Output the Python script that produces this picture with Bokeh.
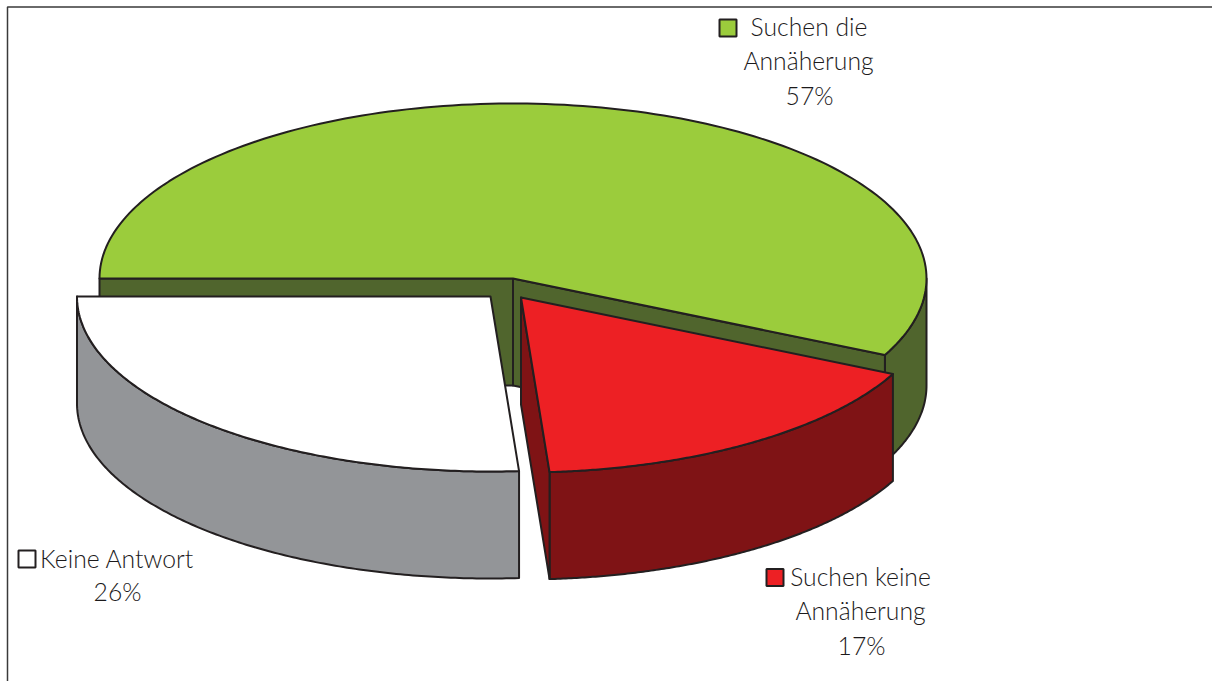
import numpy as np
from bokeh.plotting import figure
from bokeh.models import Range1d
from bokeh.core.properties import value
from bokeh.embed import file_html
from bokeh.resources import INLINE

# Data
categories = ["Suchen die Annäherung", "Suchen keine Annäherung", "Keine Antwort"]
percent_labels = [57, 17, 26]
# slice shares as actually drawn (perspective makes them differ slightly from the labels)
drawn_shares = [57.2, 16.7, 26.1]
top_colors = ["#9bcc3c", "#ed2024", "#ffffff"]
wall_colors = ["#50652d", "#7f1315", "#939598"]

INK = "#231f20"
TEXT = "#1c1a1b"
RY, DEPTH = 175, 107
centers = [(512.5, 278), (520.5, 297), (490, 296)]
radii = [413.5, 413.5, 413.5]

# boundaries in degrees: start at 9 o'clock, clockwise over the top
cum = np.cumsum([0] + drawn_shares)
bounds = 180 - 3.6 * cum


def arc(c, rx, t0, t1, dy=0, n=160):
    t = np.radians(np.linspace(t0, t1, n))
    return c[0] + rx * np.cos(t), c[1] - RY * np.sin(t) + dy


p = figure(width=1212, height=681, output_backend="svg", toolbar_location=None,
           x_range=Range1d(0, 1212), y_range=Range1d(681, 0),
           min_border=0, outline_line_color=None, background_fill_color="white",
           border_fill_color="white")
p.axis.visible = False
p.grid.visible = False


def poly(xs, ys, color, lw=2.0):
    p.patch(list(xs), list(ys), fill_color=color, line_color=INK, line_width=lw,
            line_join="round")


def outer_wall(c, rx, t0, t1, color):
    x, y = arc(c, rx, t0, t1)
    xb, yb = arc(c, rx, t1, t0, DEPTH)
    poly(np.r_[x, xb], np.r_[y, yb], color)


def radial_wall(c, rx, t, color):
    x, y = arc(c, rx, t, t, n=1)
    poly([c[0], x[0], x[0], c[0]], [c[1], y[0], y[0] + DEPTH, c[1] + DEPTH], color)


def top(c, rx, t0, t1, color):
    x, y = arc(c, rx, t0, t1)
    poly(np.r_[c[0], x], np.r_[c[1], y], color)


# green slice
c, rx = centers[0], radii[0]
outer_wall(c, rx, 0, bounds[1], wall_colors[0])
radial_wall(c, rx, bounds[1], wall_colors[0])
radial_wall(c, rx, bounds[0], wall_colors[0])
top(c, rx, bounds[0], bounds[1], top_colors[0])

# white slice
c, rx = centers[2], radii[2]
outer_wall(c, rx, bounds[2], bounds[3], wall_colors[2])
top(c, rx, bounds[2], bounds[3], top_colors[2])

# red slice
c, rx = centers[1], radii[1]
outer_wall(c, rx, bounds[1], bounds[2], wall_colors[1])
radial_wall(c, rx, bounds[2], wall_colors[1])
top(c, rx, bounds[1], bounds[2], top_colors[1])

# frame: only the top and left edges show
p.line([7, 7, 1212], [681, 6.5, 6.5], line_color="#3a3a3a", line_width=1.5)

# legend keys
key_x = [727.5, 774.5, 26.5]
key_y = [27.5, 577, 558.5]
p.rect(key_x, key_y, width=17, height=17, fill_color=top_colors,
       line_color=INK, line_width=2)

# labels
label_text = ["Suchen die", "Annäherung", f"{percent_labels[0]}%",
              "Suchen keine", "Annäherung", f"{percent_labels[1]}%",
              "Keine Antwort", f"{percent_labels[2]}%"]
label_x = [808.5, 808, 809, 860, 860, 861, 116.5, 117]
label_y = [26, 60, 95, 576, 610, 645, 557.5, 591]
p.text(label_x, label_y, text=label_text, text_font=value("Lato Light"), text_font_size="24.7px",
       text_color=TEXT, text_align="center", text_baseline="alphabetic")

open("out.html", "w").write(file_html(p, INLINE))
